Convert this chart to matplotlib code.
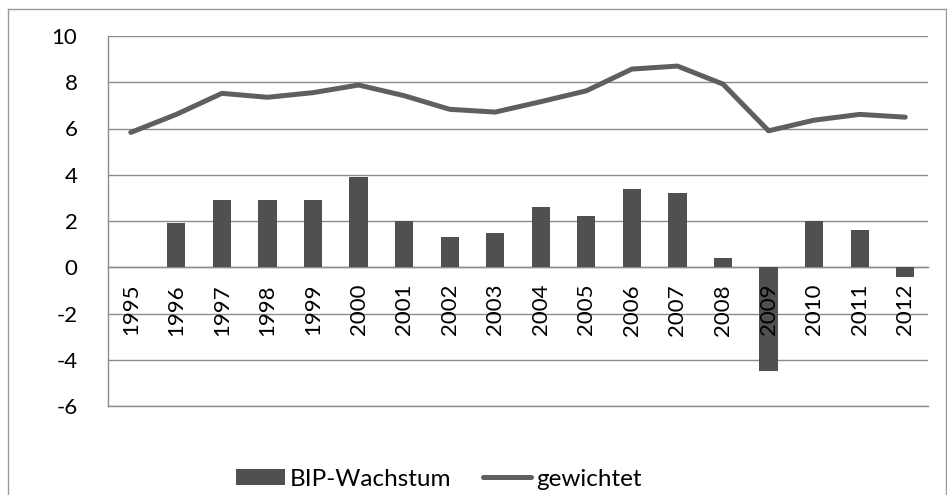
import matplotlib
matplotlib.use("Agg")
import matplotlib.pyplot as plt
from matplotlib.lines import Line2D
import numpy as np

years = ["1995", "1996", "1997", "1998", "1999", "2000", "2001", "2002", "2003",
         "2004", "2005", "2006", "2007", "2008", "2009", "2010", "2011", "2012"]
bip_wachstum = [0.0, 1.9, 2.9, 2.9, 2.9, 3.9, 2.0, 1.3, 1.5,
                2.6, 2.2, 3.4, 3.2, 0.4, -4.5, 2.0, 1.6, -0.4]
gewichtet = [5.83, 6.61, 7.52, 7.35, 7.55, 7.88, 7.42, 6.83, 6.71,
             7.16, 7.63, 8.57, 8.70, 7.92, 5.90, 6.36, 6.61, 6.49]
y_ticks = [-6, -4, -2, 0, 2, 4, 6, 8, 10]

plt.rcParams['font.family'] = ['Lato', 'DejaVu Sans']

W, H = 947, 495
fig = plt.figure(figsize=(W / 100, H / 100), dpi=100)
ax = fig.add_axes([108 / W, 1 - 406 / H, (928 - 108) / W, (406 - 36) / H])

x = np.arange(len(years))
bar_color = "#505050"
line_color = "#5f5f5f"
grid_color = "#8c8c8c"

bars = ax.bar(x, bip_wachstum, width=0.4, color=bar_color, zorder=3, label="BIP-Wachstum")
line, = ax.plot(x, gewichtet, color=line_color, lw=3.6, zorder=4, label="gewichtet",
                solid_joinstyle="round", solid_capstyle="round")

ax.set_xlim(-0.5, len(years) - 0.5)
ax.set_ylim(-6, 10)
ax.set_yticks(y_ticks)
ax.set_yticklabels([str(v) for v in y_ticks])
ax.yaxis.grid(True, color=grid_color, lw=1.0, zorder=0)
ax.set_axisbelow(True)
ax.axhline(-6, color=grid_color, lw=1.0, clip_on=False, zorder=1)

for s in ["top", "right"]:
    ax.spines[s].set_visible(False)
ax.spines["left"].set_color(grid_color)
ax.spines["left"].set_linewidth(1.0)
ax.spines["bottom"].set_position(("data", 0))
ax.spines["bottom"].set_color(grid_color)
ax.spines["bottom"].set_linewidth(1.0)
ax.spines["bottom"].set_zorder(2)

ax.set_xticks(x)
ax.set_xticklabels(years, rotation=90, va="top", ha="center")
ax.tick_params(axis="x", length=0, pad=12, labelsize=16)
ax.tick_params(axis="y", length=0, pad=22, labelsize=16)
ax.xaxis.set_zorder(5)

# outer chart border
bc = "#9a9a9a"
fig.add_artist(Line2D([8 / W, 8 / W], [-0.05, 1 - 9 / H], transform=fig.transFigure, color=bc, lw=1))
fig.add_artist(Line2D([8 / W, 946 / W], [1 - 9 / H, 1 - 9 / H], transform=fig.transFigure, color=bc, lw=1))
fig.add_artist(Line2D([946 / W, 946 / W], [-0.05, 1 - 9 / H], transform=fig.transFigure, color=bc, lw=1))

fig.legend([bars, line], ["BIP-Wachstum", "gewichtet"], loc="center",
           bbox_to_anchor=(439 / W, 1 - 479 / H), ncol=2,
           frameon=False, fontsize=17.5, handlelength=2.0, handletextpad=0.2, columnspacing=1.3,
           handleheight=0.62, borderpad=0)

fig.savefig("out.png", dpi=100)
